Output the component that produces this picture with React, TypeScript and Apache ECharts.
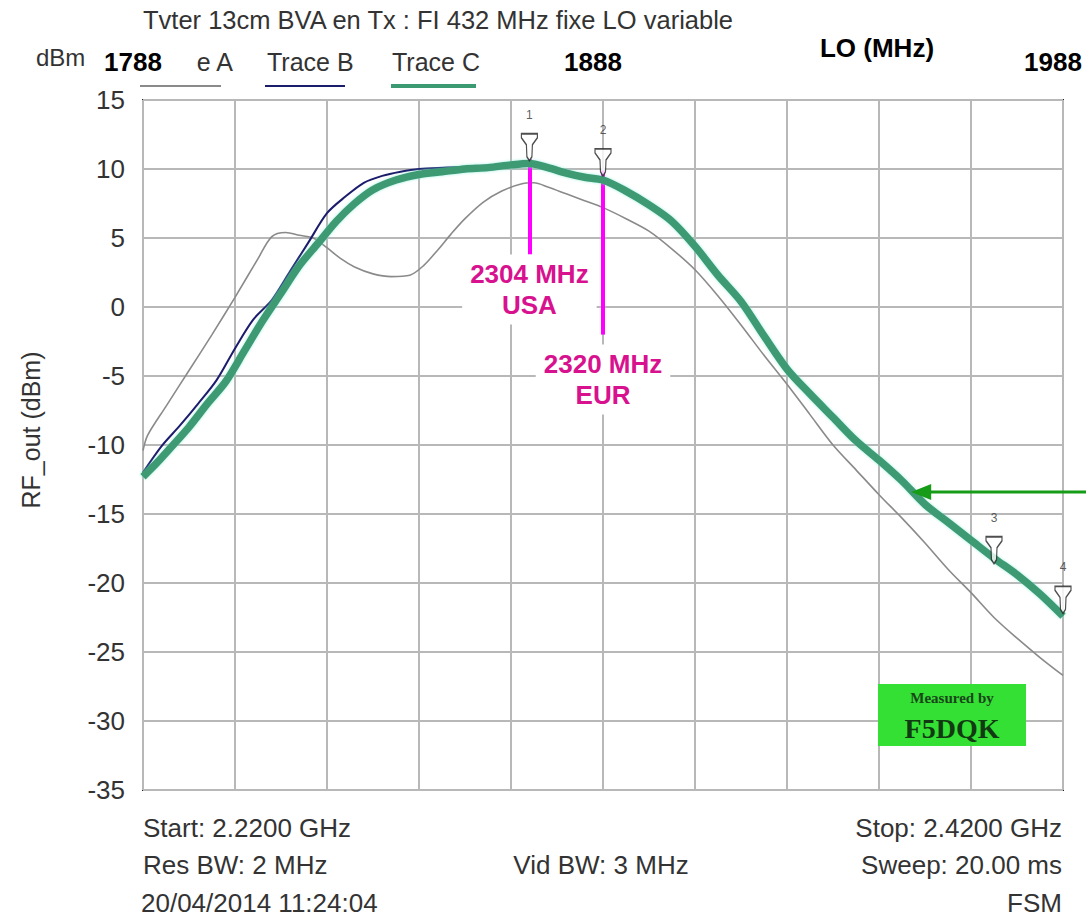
import React, { useEffect, useRef } from "react";
import * as echarts from "echarts";

// ---- Data ----
// Trace A (grey)
const freqA = [2220, 2221, 2225, 2230, 2235, 2240, 2245, 2248, 2251, 2254, 2257, 2260, 2263, 2266, 2270, 2274, 2278, 2281, 2284, 2287, 2290, 2294, 2298, 2302, 2305, 2308, 2312, 2316, 2320, 2325, 2330, 2335, 2340, 2345, 2350, 2355, 2360, 2365, 2370, 2375, 2380, 2385, 2390, 2395, 2400, 2405, 2410, 2415, 2420];
const traceA = [-10.4, -9.3, -7.2, -4.6, -2.0, 0.7, 3.5, 5.1, 5.4, 5.2, 5.0, 4.3, 3.5, 2.9, 2.4, 2.2, 2.3, 3.0, 4.1, 5.3, 6.4, 7.6, 8.4, 8.9, 9.0, 8.7, 8.2, 7.7, 7.2, 6.4, 5.5, 4.2, 2.7, 0.8, -1.3, -3.5, -5.6, -7.8, -10.0, -11.8, -13.6, -15.3, -17.1, -19.0, -20.7, -22.5, -24.0, -25.4, -26.7];

// Trace B (navy)
const freqB = [2220, 2224, 2228, 2232, 2236, 2240, 2244, 2248, 2252, 2256, 2260, 2264, 2268, 2272, 2276, 2280, 2286, 2292, 2298, 2304, 2308, 2312, 2316, 2320, 2325, 2330, 2335, 2340, 2345, 2350, 2355, 2360, 2365, 2370, 2375, 2380, 2385, 2390, 2395, 2400, 2405, 2410, 2415, 2420];
const traceB = [-12.0, -10.1, -8.6, -7.0, -5.3, -3.0, -0.9, 0.5, 2.6, 4.7, 6.8, 8.0, 9.0, 9.5, 9.8, 10.0, 10.1, 10.2, 10.3, 10.4, 10.1, 9.7, 9.4, 9.2, 8.4, 7.4, 6.2, 4.4, 2.3, 0.4, -2.1, -4.5, -6.3, -8.0, -9.7, -11.1, -12.6, -14.3, -15.6, -16.9, -18.2, -19.4, -20.8, -22.4];

// Trace C (green)
const freqC = [2220, 2223, 2226, 2230, 2234, 2238, 2242, 2246, 2250, 2254, 2258, 2262, 2266, 2270, 2275, 2280, 2285, 2290, 2295, 2300, 2304, 2308, 2312, 2316, 2320, 2325, 2330, 2335, 2340, 2345, 2350, 2355, 2360, 2365, 2370, 2375, 2380, 2385, 2390, 2395, 2400, 2405, 2410, 2415, 2420];
const traceC = [-12.3, -11.3, -10.2, -8.7, -7.0, -5.4, -3.2, -1.0, 1.0, 3.0, 4.6, 6.2, 7.5, 8.5, 9.2, 9.6, 9.8, 10.0, 10.1, 10.3, 10.4, 10.1, 9.7, 9.4, 9.2, 8.4, 7.4, 6.2, 4.4, 2.3, 0.4, -2.1, -4.5, -6.3, -8.0, -9.7, -11.1, -12.6, -14.3, -15.6, -16.9, -18.2, -19.4, -20.8, -22.4];

// Markers on the analyser
const markerFreqs = [2304, 2320, 2405, 2420];
const markerLevels = [10.6, 9.5, -18.6, -22.2];
const markerNames = ["1", "2", "3", "4"];

// Band annotations
const bandFreqs = [2304, 2320];
const bandTop = [10.7, 9.9];
const bandBottom = [3.8, -2.0];
const bandLabels = ["2304 MHz\nUSA", "2320 MHz\nEUR"];

// Arrow target on Trace C
const arrowPoint = [2387, -13.4];

// Axis definitions
const rfMin = 2220, rfMax = 2420, rfStep = 20;
const loMin = 1788, loMax = 1988, loStep = 100;
const dbMin = -35, dbMax = 15, dbStep = 5;

const FONT = "'Liberation Sans', Arial, sans-serif";
const TXT = "#333333";

const zip = (xs: number[], ys: number[]) => xs.map((x, i) => [x, ys[i]]);

const PIN = "path://M0,0 L16,0 L16,4 L11,11 L10.5,23 L8,27 L5.5,23 L5,11 L0,4 Z";

export default function App() {
  const ref = useRef<HTMLDivElement>(null);
  useEffect(() => {
    document.body.style.margin = "0";
    const chart = echarts.init(ref.current!, null, { renderer: "svg" });
    const txt = (text: string, x: number, y: number, align = "left", extra: any = {}) => ({
      type: "text",
      x,
      y,
      z: 1,
      style: { text, fill: TXT, fontSize: 26, fontFamily: FONT, align, verticalAlign: "middle", ...extra },
    });
    const staticGraphics: any[] = [
      txt("Tvter 13cm BVA en Tx : FI 432 MHz fixe LO variable", 143, 20, "left", { fontSize: 25.5 }),
      txt("dBm", 36, 57, "left", { fontSize: 24 }),
      txt("e A", 233, 62, "right", { fontSize: 25 }),
      txt("Trace B", 267, 62, "left", { fontSize: 25 }),
      txt("Trace C", 392, 62, "left", { fontSize: 25 }),
      { type: "line", z: 1, shape: { x1: 140, y1: 86, x2: 221, y2: 86 }, style: { stroke: "#8a8a8a", lineWidth: 2 } },
      { type: "line", z: 1, shape: { x1: 265, y1: 86, x2: 345, y2: 86 }, style: { stroke: "#1c1c6c", lineWidth: 2 } },
      { type: "line", z: 1, shape: { x1: 391, y1: 86, x2: 476, y2: 86 }, style: { stroke: "#3c9a72", lineWidth: 4 } },
      txt("LO (MHz)", 877, 48, "center", { fill: "#000", fontWeight: "bold" }),
      txt("Start: 2.2200 GHz", 143, 828),
      txt("Stop: 2.4200 GHz", 1062, 828, "right"),
      txt("Res BW: 2 MHz", 143, 865),
      txt("Vid BW: 3 MHz", 601, 865, "center"),
      txt("Sweep: 20.00 ms", 1062, 865, "right"),
      txt("20/04/2014 11:24:04", 141, 903),
      txt("FSM", 1062, 903, "right"),
      { type: "rect", z: 5, shape: { x: 878, y: 684, width: 148, height: 62 }, style: { fill: "#33e033" } },
      txt("Measured by", 952, 698, "center", { fill: "#1a451a", fontSize: 15, fontFamily: "'Liberation Serif', serif", fontWeight: "bold" }),
      txt("F5DQK", 952, 728, "center", { fill: "#123a12", fontSize: 28, fontFamily: "'Liberation Serif', serif", fontWeight: "bold" }),
    ];
    staticGraphics[staticGraphics.length - 1].z = 6;
    staticGraphics[staticGraphics.length - 2].z = 6;

    const option: any = {
      animation: false,
      backgroundColor: "#ffffff",
      grid: {
        left: 143,
        top: 100,
        width: 920,
        height: 690,
        containLabel: false,
        outerBoundsMode: "none",
        show: true,
        borderColor: "#222",
        borderWidth: 2,
        backgroundColor: "transparent",
      },
      xAxis: [
        {
          type: "value",
          min: rfMin,
          max: rfMax,
          interval: rfStep,
          axisLabel: { show: false },
          axisTick: { show: false },
          axisLine: { show: false },
          splitLine: { show: true, lineStyle: { color: "#b8b8b8", width: 2 } },
        },
        {
          type: "value",
          position: "top",
          min: loMin,
          max: loMax,
          interval: loStep,
          z: 20,
          axisTick: { show: false },
          axisLine: { show: false },
          splitLine: { show: false },
          axisLabel: {
            show: true,
            margin: 22,
            fontSize: 26,
            fontWeight: "bold",
            fontFamily: FONT,
            color: "#000",
            formatter: (v: number) => String(v),
            backgroundColor: "#ffffff",
            padding: [3, 24, 3, 4],
            showMinLabel: true,
            showMaxLabel: true,
          },
        },
      ],
      yAxis: {
        type: "value",
        min: dbMin,
        max: dbMax,
        interval: dbStep,
        name: "RF_out (dBm)",
        nameLocation: "middle",
        nameGap: 100,
        nameTextStyle: { fontSize: 25, fontFamily: FONT, color: TXT, padding: [0, 0, 0, 30] },
        axisLabel: { fontSize: 26, fontFamily: FONT, color: TXT, margin: 18 },
        axisTick: { show: false },
        axisLine: { show: false },
        splitLine: { show: true, lineStyle: { color: "#b8b8b8", width: 2 } },
      },
      series: [
        {
          name: "Trace A",
          type: "line",
          data: zip(freqA, traceA),
          showSymbol: false,
          smooth: 0.3,
          lineStyle: { color: "#8a8a8a", width: 1.6 },
          z: 3,
        },
        {
          name: "Trace B",
          type: "line",
          data: zip(freqB, traceB),
          showSymbol: false,
          smooth: 0.3,
          lineStyle: { color: "#1c1c6c", width: 2 },
          z: 4,
        },
        {
          name: "Trace C",
          type: "line",
          data: zip(freqC, traceC),
          showSymbol: false,
          smooth: 0.3,
          lineStyle: { color: "#3c9a72", width: 7.5, shadowColor: "rgba(120,230,210,0.7)", shadowBlur: 3 },
          z: 5,
          markLine: {
            silent: true,
            symbol: ["none", "none"],
            lineStyle: { color: "#ff00ff", width: 4, type: "solid" },
            label: {
              show: true,
              position: "end",
              color: "#d8128f",
              fontSize: 26,
              fontWeight: "bold",
              fontFamily: FONT,
              lineHeight: 31,
              backgroundColor: "#ffffff",
              padding: [4, 8, 4, 8],
            },
            data: bandFreqs.map((f, i) => [
              { coord: [f, bandTop[i]], label: { formatter: bandLabels[i], distance: i === 0 ? 0 : 10 } },
              { coord: [f, bandBottom[i]] },
            ]),
          },
        },
        {
          name: "Markers",
          type: "scatter",
          data: markerFreqs.map((f, i) => [f, markerLevels[i]]),
          symbol: PIN,
          symbolSize: [16, 27],
          symbolOffset: [0, "-50%"],
          itemStyle: { color: "#ffffff", borderColor: "#222", borderWidth: 1.5 },
          label: {
            show: true,
            position: "top",
            distance: 12,
            formatter: (p: any) => markerNames[p.dataIndex],
            fontSize: 12,
            fontFamily: FONT,
            color: "#333",
          },
          z: 8,
        },
      ],
      graphic: staticGraphics,
    };
    chart.setOption(option);

    const tip = chart.convertToPixel({ xAxisIndex: 0, yAxisIndex: 0 }, arrowPoint) as number[];
    chart.setOption({
      graphic: [
        ...staticGraphics,
        { type: "line", z: 7, shape: { x1: 1086, y1: tip[1], x2: tip[0] + 14, y2: tip[1] }, style: { stroke: "#169c16", lineWidth: 3 } },
        {
          type: "polygon",
          z: 7,
          shape: { points: [[tip[0], tip[1]], [tip[0] + 20, tip[1] - 8], [tip[0] + 20, tip[1] + 8]] },
          style: { fill: "#169c16" },
        },
      ],
    });

    return () => chart.dispose();
  }, []);
  return <div ref={ref} style={{ width: 1086, height: 920 }} />;
}
